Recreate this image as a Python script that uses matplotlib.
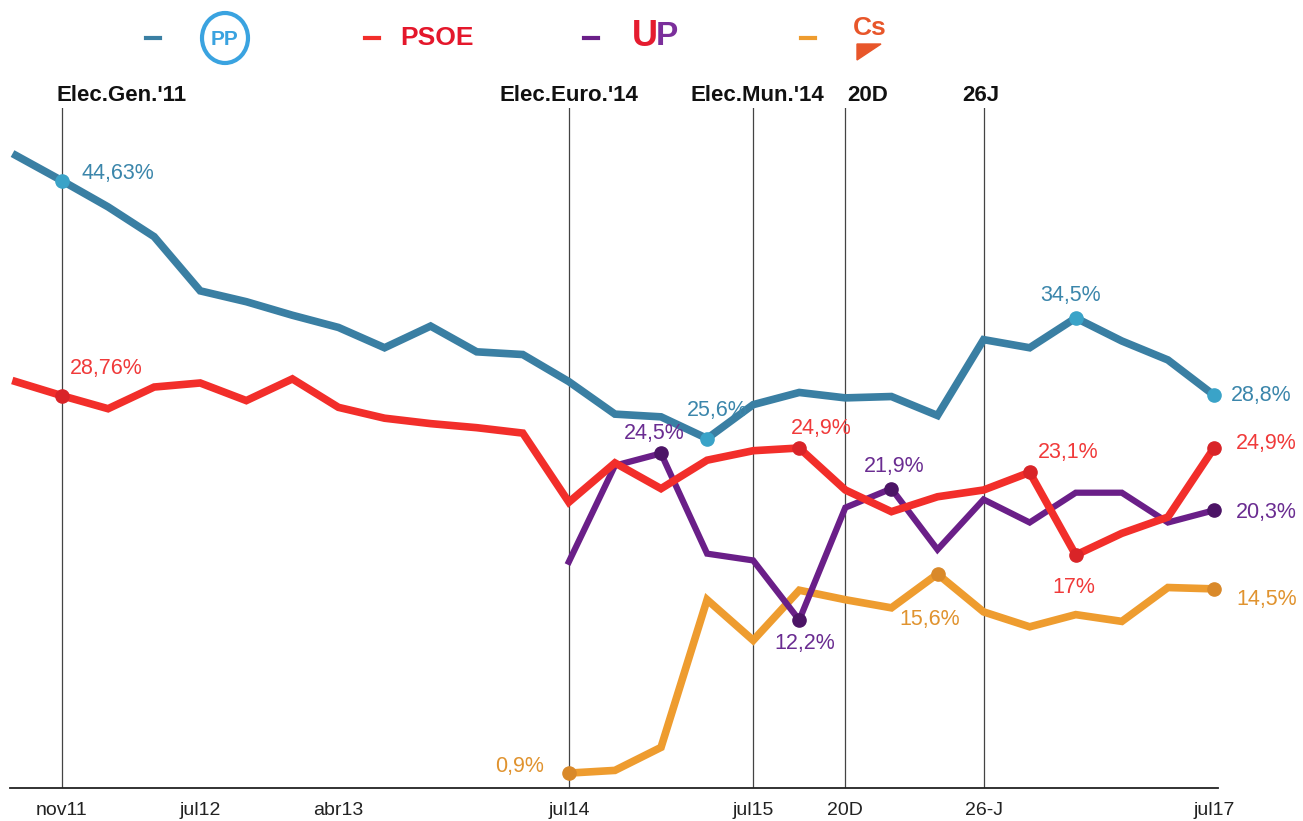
import numpy as np
import matplotlib
matplotlib.use("Agg")
import matplotlib.pyplot as plt
from matplotlib.patches import Ellipse, Polygon

plt.rcParams['font.family'] = ['Liberation Sans', 'DejaVu Sans']

# polls, one value per step (27 steps, nov11 is step 1)
pp = [46.5, 44.63, 42.7, 40.5, 36.5, 35.7, 34.7, 33.8, 32.3, 33.9, 32.0, 31.8, 29.8,
      27.4, 27.2, 25.6, 28.1, 29.0, 28.6, 28.7, 27.3, 32.9, 32.3, 34.5, 32.8, 31.4, 28.8]
psoe = [29.8, 28.76, 27.8, 29.4, 29.7, 28.4, 30.0, 27.9, 27.1, 26.7, 26.4, 26.0, 20.9,
        23.8, 21.9, 24.0, 24.7, 24.9, 21.8, 20.2, 21.3, 21.8, 23.1, 17.0, 18.6, 19.8, 24.9]
up = [16.5, 23.6, 24.5, 17.1, 16.6, 12.2, 20.5, 21.9, 17.4, 21.1, 19.4, 21.6, 21.6, 19.4, 20.3]
cs = [0.9, 1.1, 2.8, 13.7, 10.7, 14.4, 13.7, 13.1, 15.6, 12.8, 11.7, 12.6, 12.1, 14.6, 14.5]
up_start = 12
cs_start = 12

tick_pos = [1, 4, 7, 12, 16, 18, 21, 26]
tick_labels = ["nov11", "jul12", "abr13", "jul14", "jul15", "20D", "26-J", "jul17"]

event_pos = [1, 12, 16, 18, 21]
event_labels = ["Elec.Gen.'11", "Elec.Euro.'14", "Elec.Mun.'14", "20D", "26J"]

# labelled points: (step, text)
notes_pp = [(1, "44,63%"), (15, "25,6%"), (23, "34,5%"), (26, "28,8%")]
notes_psoe = [(1, "28,76%"), (17, "24,9%"), (22, "23,1%"), (23, "17%"), (26, "24,9%")]
notes_up = [(14, "24,5%"), (17, "12,2%"), (19, "21,9%"), (26, "20,3%")]
notes_cs = [(12, "0,9%"), (20, "15,6%"), (26, "14,5%")]

c_pp, c_pp_dot, c_pp_txt = "#3a7fa3", "#3aa3c8", "#3b86ab"
c_psoe, c_psoe_dot, c_psoe_txt = "#f22e2a", "#d92428", "#f03a3a"
c_up, c_up_dot, c_up_txt = "#6a1f88", "#4c1466", "#6a2c91"
c_cs, c_cs_dot, c_cs_txt = "#ee9c2f", "#d9892a", "#e0932f"

W, H = 1303, 821
fig = plt.figure(figsize=(W / 100, H / 100), dpi=100)
ax = fig.add_axes([10 / W, 1 - 788 / H, 1208 / W, 680 / H])

x_all = np.arange(len(pp))
x_up = np.arange(up_start, up_start + len(up))
x_cs = np.arange(cs_start, cs_start + len(cs))

for p in event_pos:
    ax.axvline(p, color="#444444", lw=0.9, zorder=1)

ax.plot(x_all, pp, color=c_pp, lw=5.5, solid_joinstyle="miter", zorder=3, clip_on=False)
ax.plot(x_all, psoe, color=c_psoe, lw=5.5, solid_joinstyle="miter", zorder=4, clip_on=False)
ax.plot(x_up, up, color=c_up, lw=4.5, solid_joinstyle="miter", zorder=3, clip_on=False)
ax.plot(x_cs, cs, color=c_cs, lw=5.5, solid_joinstyle="miter", zorder=2, clip_on=False)


def mark(notes, xs, ys, dot, txt, offsets):
    for (step, label), off in zip(notes, offsets):
        v = ys[list(xs).index(step)]
        ax.plot(step, v, "o", ms=9.5, color=dot, zorder=6, clip_on=False)
        dx, dy, ha = off
        ax.annotate(label, (step, v), xytext=(dx, dy), textcoords="offset pixels",
                    ha=ha, va="center", fontsize=15.5, color=txt, zorder=7)


mark(notes_pp, x_all, pp, c_pp_dot, c_pp_txt,
     [(20, 7, "left"), (10, 28, "center"), (-5, 22, "center"), (17, 0, "left")])
mark(notes_psoe, x_all, psoe, c_psoe_dot, c_psoe_txt,
     [(8, 27, "left"), (22, 20, "center"), (39, 20, "center"), (-2, -32, "center"), (22, 5, "left")])
mark(notes_up, x_up, up, c_up_dot, c_up_txt,
     [(-7, 20, "center"), (5, -23, "center"), (3, 22, "center"), (22, -2, "left")])
mark(notes_cs, x_cs, cs, c_cs_dot, c_cs_txt,
     [(-25, 7, "right"), (-8, -46, "center"), (22, -11, "left")])

ax.set_xlim(-0.128, 26.087)
ax.set_ylim(-0.2, 50)
for s in ["top", "right", "left"]:
    ax.spines[s].set_visible(False)
ax.spines["bottom"].set_color("#222222")
ax.spines["bottom"].set_linewidth(1.3)
ax.set_yticks([])
ax.set_xticks(tick_pos)
ax.set_xticklabels(tick_labels, fontsize=14, color="#222222")
ax.tick_params(axis="x", length=0, pad=10)

# event labels above the vertical lines
ev_off = [(-5, "left"), (0, "center"), (4, "center"), (2, "left"), (-3, "center")]
for p, lab, (dx, ha) in zip(event_pos, event_labels, ev_off):
    ax.annotate(lab, (p, 1), xycoords=("data", "axes fraction"), xytext=(dx, 13),
                textcoords="offset pixels", ha=ha, va="center", fontsize=16,
                fontweight="bold", color="#111111")

# legend row with party logos
ly = 1 - 38 / H
for x0, col in [(153, c_pp), (372, c_psoe), (591, c_up), (808, c_cs)]:
    fig.add_artist(plt.Line2D([(x0 - 7) / W, (x0 + 7) / W], [ly, ly], color=col, lw=3))

fig.add_artist(Ellipse((225 / W, ly), 46 / W, 50 / H, transform=fig.transFigure,
                       fill=False, ec="#3aa3e0", lw=3))
fig.text(225 / W, ly - 1 / H, "PP", ha="center", va="center", fontsize=15,
         fontweight="bold", color="#3aa3e0")
fig.text(400 / W, ly, "PSOE", ha="left", va="center", fontsize=19,
         fontweight="bold", color="#e4172b")
fig.text(632 / W, ly + 2 / H, "U", ha="left", va="center", fontsize=26,
         fontweight="bold", color="#e51c2f")
fig.text(656 / W, ly + 2 / H, "P", ha="left", va="center", fontsize=24,
         fontweight="bold", color="#7b2f9b")
fig.text(853 / W, 1 - 28 / H, "Cs", ha="left", va="center", fontsize=19,
         fontweight="bold", color="#e8562a")
fig.add_artist(Polygon([[857 / W, 1 - 44 / H], [881 / W, 1 - 44 / H], [857 / W, 1 - 60 / H]],
                       closed=True, transform=fig.transFigure, color="#e8562a"))

fig.savefig("out.png", dpi=100)
